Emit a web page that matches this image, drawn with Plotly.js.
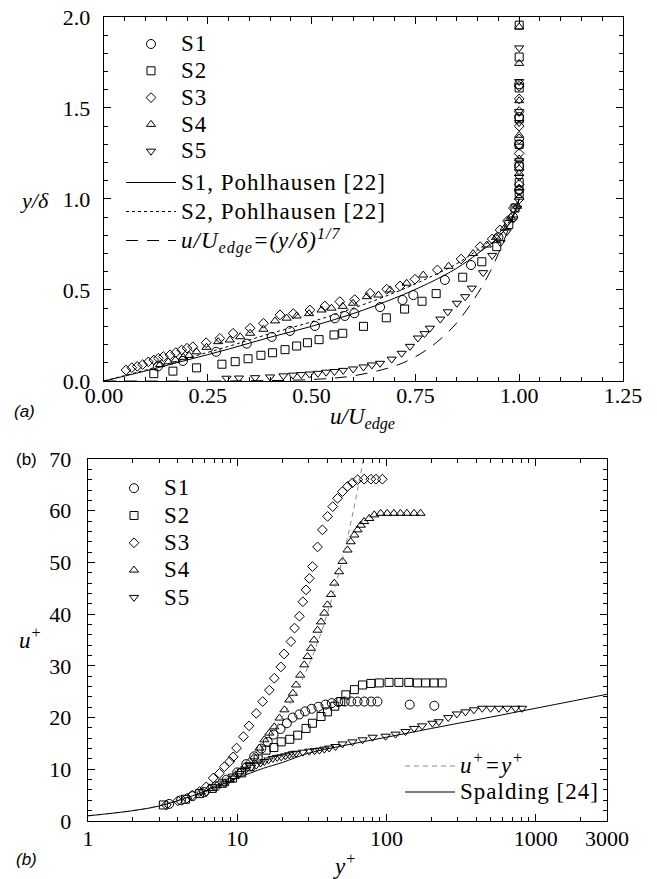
<!DOCTYPE html>
<html>
<head>
<meta charset="utf-8">
<script src="https://cdn.plot.ly/plotly-3.0.1.min.js"></script>
<style>
  html, body { margin: 0; padding: 0; background: #fff; }
  #chart { width: 657px; height: 879px; }
</style>
</head>
<body>
<div id="chart"></div>
<script>
// ---------- (a) mean velocity profiles: u/U_edge vs y/delta ----------
const a_S1_u = [0.13, 0.19, 0.27, 0.344, 0.404, 0.448, 0.508, 0.556, 0.58, 0.603, 0.665, 0.719, 0.745, 0.821, 0.884, 0.95, 0.985, 1.0, 1.0, 1.0, 1.0, 1.0];
const a_S1_y = [0.08, 0.11, 0.16, 0.205, 0.242, 0.275, 0.302, 0.344, 0.357, 0.372, 0.406, 0.445, 0.472, 0.555, 0.637, 0.79, 0.90, 1.05, 1.18, 1.30, 1.45, 1.63];

const a_S2_u = [0.12, 0.166, 0.223, 0.284, 0.316, 0.347, 0.378, 0.406, 0.436, 0.464, 0.49, 0.518, 0.554, 0.575, 0.625, 0.68, 0.724, 0.766, 0.80, 0.864, 0.91, 0.946, 0.975, 0.99, 1.0, 1.0, 1.0, 1.0, 1.0, 1.0, 1.0, 1.0];
const a_S2_y = [0.04, 0.054, 0.072, 0.092, 0.106, 0.122, 0.141, 0.155, 0.172, 0.192, 0.21, 0.227, 0.253, 0.262, 0.30, 0.347, 0.395, 0.438, 0.48, 0.57, 0.655, 0.738, 0.86, 0.95, 1.03, 1.09, 1.18, 1.30, 1.44, 1.61, 1.78, 1.955];

const a_S3_u = [0.053, 0.067, 0.08, 0.093, 0.107, 0.12, 0.131, 0.143, 0.159, 0.173, 0.187, 0.20, 0.214, 0.246, 0.279, 0.311, 0.352, 0.384, 0.424, 0.456, 0.496, 0.532, 0.568, 0.604, 0.641, 0.681, 0.713, 0.749, 0.803, 0.86, 0.906, 0.935, 0.954, 0.972, 0.986, 1.0, 1.0, 1.0, 1.0, 1.0, 1.0, 1.0, 1.0, 1.0];
const a_S3_y = [0.06, 0.073, 0.08, 0.09, 0.105, 0.115, 0.125, 0.134, 0.143, 0.156, 0.17, 0.18, 0.188, 0.21, 0.234, 0.262, 0.29, 0.317, 0.363, 0.37, 0.39, 0.412, 0.436, 0.447, 0.482, 0.504, 0.522, 0.559, 0.61, 0.67, 0.738, 0.78, 0.83, 0.88, 0.95, 1.0, 1.08, 1.16, 1.25, 1.33, 1.40, 1.48, 1.55, 1.62];

const a_S4_u = [0.135, 0.155, 0.172, 0.191, 0.205, 0.223, 0.247, 0.275, 0.303, 0.328, 0.352, 0.384, 0.412, 0.44, 0.464, 0.494, 0.524, 0.548, 0.575, 0.60, 0.633, 0.661, 0.689, 0.729, 0.769, 0.83, 0.889, 0.922, 0.945, 0.965, 0.98, 0.995, 1.0, 1.0, 1.0, 1.0, 1.0, 1.0, 1.0, 1.0];
const a_S4_y = [0.09, 0.105, 0.115, 0.13, 0.14, 0.16, 0.185, 0.216, 0.225, 0.243, 0.262, 0.284, 0.33, 0.345, 0.357, 0.37, 0.39, 0.40, 0.41, 0.427, 0.463, 0.472, 0.50, 0.537, 0.582, 0.63, 0.70, 0.747, 0.79, 0.84, 0.90, 0.96, 1.01, 1.06, 1.14, 1.22, 1.35, 1.54, 1.745, 1.945];

const a_S5_u = [0.295, 0.325, 0.364, 0.40, 0.432, 0.455, 0.475, 0.495, 0.515, 0.535, 0.555, 0.576, 0.60, 0.625, 0.645, 0.665, 0.693, 0.717, 0.737, 0.756, 0.772, 0.785, 0.81, 0.828, 0.85, 0.87, 0.886, 0.913, 0.935, 0.955, 0.97, 0.986, 0.995, 1.0, 1.0, 1.0, 1.0, 1.0, 1.0, 1.0, 1.0];
const a_S5_y = [0.015, 0.016, 0.018, 0.022, 0.028, 0.032, 0.035, 0.038, 0.042, 0.048, 0.052, 0.058, 0.066, 0.077, 0.088, 0.097, 0.12, 0.152, 0.19, 0.236, 0.26, 0.29, 0.34, 0.38, 0.427, 0.463, 0.51, 0.595, 0.69, 0.76, 0.82, 0.89, 0.95, 1.04, 1.12, 1.21, 1.29, 1.42, 1.48, 1.645, 1.83];

// Pohlhausen curves and 1/7 power law
const a_pohl_u   = [0, 0.05, 0.10, 0.20, 0.30, 0.40, 0.50, 0.60, 0.70, 0.78, 0.85, 0.90, 0.95, 0.98, 1.0];
const a_pohl1_y  = [0, 0.027, 0.055, 0.115, 0.175, 0.24, 0.30, 0.37, 0.455, 0.535, 0.62, 0.70, 0.79, 0.88, 1.0];
const a_pohl2_y  = [0, 0.030, 0.060, 0.125, 0.19, 0.26, 0.325, 0.40, 0.485, 0.565, 0.645, 0.72, 0.81, 0.89, 1.0];
const a_pow_u    = [0, 0.30, 0.50, 0.60, 0.70, 0.75, 0.80, 0.85, 0.90, 0.93, 0.95, 0.97, 0.99, 1.0];
const a_pow_y    = [0, 0.0002, 0.008, 0.028, 0.082, 0.133, 0.21, 0.32, 0.48, 0.60, 0.70, 0.81, 0.93, 1.0];

// ---------- (b) wall units: y+ vs u+ ----------
const b_S1_yp = [3.5, 4.2, 5.0, 6.0, 7.2, 8.5, 10, 11.5, 13, 14.5, 16, 17.5, 19.5, 21.5, 23.5, 26, 28.5, 31.5, 35, 39, 43, 47.5, 52.5, 58, 64, 71, 79, 87, 143, 209];
const b_S1_up = [3.3, 4.0, 4.8, 5.6, 6.7, 8.0, 9.4, 11.0, 12.5, 14.0, 15.3, 16.7, 17.8, 18.9, 20.0, 20.6, 21.2, 21.7, 22.1, 22.5, 22.8, 23.0, 23.1, 23.1, 23.1, 23.1, 23.1, 23.1, 22.5, 22.3];

const b_S2_yp = [3.2, 4.5, 5.6, 6.8, 8.0, 9.3, 10.7, 12.2, 13.8, 15.6, 17.6, 19.7, 22.5, 25.4, 28.9, 31.9, 36.4, 40.2, 45, 49.4, 53.4, 60.9, 69.1, 78.6, 89.4, 104, 121, 141, 161, 183, 208, 236];
const b_S2_up = [3.1, 4.2, 5.3, 6.3, 7.3, 8.3, 9.3, 10.5, 12.0, 13.7, 14.2, 15.3, 15.8, 16.6, 17.9, 18.9, 20.2, 21.1, 22.2, 23.1, 24.4, 25.4, 26.3, 26.6, 26.7, 26.8, 26.8, 26.8, 26.7, 26.7, 26.7, 26.7];

const b_S3_yp = [3.35, 4.0, 4.6, 5.0, 5.6, 6.2, 6.9, 7.6, 8.2, 8.9, 9.4, 9.9, 11.0, 12.0, 13.4, 14.8, 16.4, 17.7, 19.6, 20.6, 22.9, 24.2, 26.1, 27.5, 28.9, 30.4, 31.9, 34.5, 37.2, 40.3, 43.6, 47.0, 50.7, 54.8, 59.1, 64.0, 70.8, 78.6, 84.9, 93.8];
const b_S3_up = [3.1, 3.9, 4.4, 5.0, 5.7, 6.6, 8.3, 9.2, 10.5, 11.5, 12.4, 14.1, 16.3, 18.4, 20.8, 23.1, 25.3, 27.6, 29.8, 32.3, 34.7, 37.3, 39.6, 42.4, 44.7, 46.9, 49.2, 53.0, 56.3, 58.9, 60.8, 62.4, 63.7, 64.7, 65.4, 66.0, 66.1, 66.1, 66.1, 66.1];

const b_S4_yp = [5.7, 6.5, 7.3, 8.2, 8.9, 9.6, 10.4, 11.2, 12.1, 13.0, 14.1, 15.2, 16.4, 17.7, 19.2, 20.7, 22.3, 23.6, 24.8, 26.4, 28.1, 29.6, 31.2, 32.7, 34.5, 36.4, 38.3, 40.2, 42.5, 44.7, 48.1, 50.7, 54.8, 57.6, 60.9, 64.0, 67.3, 70.8, 76.6, 82.8, 91.4, 101, 112, 124, 137, 153, 169];
const b_S4_up = [5.6, 6.3, 6.9, 7.3, 7.9, 8.6, 9.5, 10.5, 11.5, 12.4, 14.1, 15.7, 17.0, 18.2, 19.9, 21.5, 23.4, 24.7, 26.3, 28.2, 30.2, 31.8, 33.4, 35.0, 36.9, 38.5, 40.2, 41.8, 43.8, 46.0, 48.2, 50.2, 52.4, 54.0, 55.3, 56.3, 57.2, 57.9, 58.5, 59.2, 59.5, 59.5, 59.5, 59.5, 59.5, 59.5, 59.5];

const b_S5_yp = [6.2, 7.2, 8.2, 9.3, 10.4, 11.5, 12.4, 13.4, 14.3, 15.2, 16.2, 17.3, 18.5, 19.7, 21.0, 22.3, 23.6, 24.8, 27.5, 30.4, 33.0, 35.5, 38.3, 41.3, 45.5, 50.7, 59.1, 69.1, 80.7, 98.6, 115, 134, 153, 173, 203, 224, 259, 296, 338, 385, 438, 498, 566, 643, 731, 810];
const b_S5_up = [5.5, 6.6, 7.3, 8.3, 9.2, 10.0, 10.4, 10.8, 11.2, 11.5, 11.8, 12.1, 12.3, 12.4, 12.6, 12.8, 13.0, 13.1, 13.3, 13.5, 13.6, 13.7, 13.9, 14.1, 14.4, 14.9, 15.3, 15.7, 16.2, 16.4, 16.8, 17.3, 17.9, 18.4, 18.9, 19.2, 20.0, 20.7, 21.1, 21.5, 21.8, 21.8, 21.8, 21.8, 21.8, 21.8];

// viscous sublayer line and Spalding law
const b_lin_yp  = [1, 2, 3, 5, 7, 10, 15, 20, 30, 40, 50, 60, 70];
const b_lin_up  = [1, 2, 3, 5, 7, 10, 15, 20, 30, 40, 50, 60, 70];
const b_spal_yp = [1, 2, 3, 5, 7, 10, 15, 20, 30, 50, 100, 200, 500, 1000, 3000];
const b_spal_up = [1.0, 2.0, 2.9, 4.85, 6.5, 8.3, 10.2, 11.3, 13.1, 14.5, 16.2, 17.9, 20.1, 21.8, 24.5];

const seriesNames = ['S1', 'S2', 'S3', 'S4', 'S5'];
const lineNamesA = ['S1, Pohlhausen [22]', 'S2, Pohlhausen [22]', '<i>u/U<sub>edge</sub>=(y/δ)<sup>1/7</sup></i>'];
const lineNamesB = ['<i>u<sup>+</sup>=y<sup>+</sup></i>', 'Spalding [24]'];
const symbols = ['circle-open', 'square-open', 'diamond-open', 'triangle-up-open', 'triangle-down-open'];
const sizes = [9, 8, 7.5, 8, 8];

const SERIF = 'Liberation Serif';
const SANS = 'Liberation Sans';
// legend labels are drawn larger than the legend row pitch
const big = (t) => '<span style="font-size:23px;letter-spacing:1px">' + t + '</span>';

const aU = [a_S1_u, a_S2_u, a_S3_u, a_S4_u, a_S5_u];
const aY = [a_S1_y, a_S2_y, a_S3_y, a_S4_y, a_S5_y];
const bX = [b_S1_yp, b_S2_yp, b_S3_yp, b_S4_yp, b_S5_yp];
const bY = [b_S1_up, b_S2_up, b_S3_up, b_S4_up, b_S5_up];

const traces = [];
seriesNames.forEach((n, i) => {
  traces.push({
    type: 'scatter', mode: 'markers', name: big(n), x: aU[i], y: aY[i],
    xaxis: 'x', yaxis: 'y', legend: 'legend',
    marker: { symbol: symbols[i], size: sizes[i], color: 'black', line: { width: 1, color: 'black' } }
  });
});
traces.push({ type: 'scatter', mode: 'lines', name: big(lineNamesA[0]), x: a_pohl_u, y: a_pohl1_y,
  xaxis: 'x', yaxis: 'y', legend: 'legend4', line: { color: 'black', width: 1, shape: 'spline' } });
traces.push({ type: 'scatter', mode: 'lines', name: big(lineNamesA[1]), x: a_pohl_u, y: a_pohl2_y,
  xaxis: 'x', yaxis: 'y', legend: 'legend4', line: { color: 'black', width: 1, dash: '3px,3px', shape: 'spline' } });
traces.push({ type: 'scatter', mode: 'lines', name: big(lineNamesA[2]), x: a_pow_u, y: a_pow_y,
  xaxis: 'x', yaxis: 'y', legend: 'legend4', line: { color: 'black', width: 1, dash: '12px,9px', shape: 'spline' } });

seriesNames.forEach((n, i) => {
  traces.push({
    type: 'scatter', mode: 'markers', name: big(n), x: bX[i], y: bY[i],
    xaxis: 'x2', yaxis: 'y2', legend: 'legend2',
    marker: { symbol: symbols[i], size: sizes[i], color: 'black', line: { width: 1, color: 'black' } }
  });
});
traces.push({ type: 'scatter', mode: 'lines', name: big(lineNamesB[0]), x: b_lin_yp, y: b_lin_up,
  xaxis: 'x2', yaxis: 'y2', legend: 'legend3', line: { color: '#888', width: 1, dash: '5px,4px', shape: 'spline' } });
traces.push({ type: 'scatter', mode: 'lines', name: big(lineNamesB[1]), x: b_spal_yp, y: b_spal_up,
  xaxis: 'x2', yaxis: 'y2', legend: 'legend3', line: { color: 'black', width: 1, shape: 'spline' } });

function axisBase() {
  return {
    showline: true, linecolor: 'black', linewidth: 1.3, mirror: 'allticks',
    ticks: 'inside', ticklen: 7, tickwidth: 1, tickcolor: 'black',
    showgrid: false, zeroline: false,
    tickfont: { family: 'Liberation Serif', size: 22, color: 'black' }
  };
}

const minorLog = [];
[1, 10, 100, 1000].forEach(d => { for (let k = 2; k <= 9; k++) { if (k * d < 3000) minorLog.push(k * d); } });

function legendAt(x, y, size) {
  return { font: { family: SERIF, size: size, color: 'black' }, bgcolor: 'rgba(0,0,0,0)', borderwidth: 0,
    xanchor: 'left', yanchor: 'top', traceorder: 'normal', tracegroupgap: 0, itemwidth: 50, x: x, y: y };
}

const layout = {
  width: 657, height: 879,
  margin: { l: 0, r: 0, t: 0, b: 0 },
  paper_bgcolor: 'white', plot_bgcolor: 'white',
  showlegend: true,
  font: { family: SERIF, color: 'black' },
  xaxis: Object.assign(axisBase(), {
    domain: [0.1583, 0.9482], anchor: 'y', range: [0, 1.25], dtick: 0.25, tick0: 0, tickformat: '.2f',
    ticklabelstandoff: -6,
    minor: { dtick: 0.05, ticks: 'inside', ticklen: 4, tickcolor: 'black', showgrid: false }
  }),
  yaxis: Object.assign(axisBase(), {
    domain: [0.5666, 0.9807], anchor: 'x', range: [0, 2], dtick: 0.5, tick0: 0, tickformat: '.1f',
    ticklabelstandoff: 8,
    minor: { dtick: 0.1, ticks: 'inside', ticklen: 4, tickcolor: 'black', showgrid: false }
  }),
  xaxis2: Object.assign(axisBase(), {
    domain: [0.1339, 0.9239], anchor: 'y2', type: 'log', range: [0, Math.log10(3000)],
    tickmode: 'array', tickvals: [1, 10, 100, 1000, 3000], ticktext: ['1', '10', '100', '1000', '3000'],
    ticklabelstandoff: -3,
    minor: { tickmode: 'array', tickvals: minorLog, ticks: 'inside', ticklen: 4, tickcolor: 'black', showgrid: false }
  }),
  yaxis2: Object.assign(axisBase(), {
    domain: [0.0660, 0.4778], anchor: 'x2', range: [0, 70], dtick: 10, tick0: 0,
    ticklabelstandoff: 11,
    minor: { dtick: 2, ticks: 'inside', ticklen: 4, tickcolor: 'black', showgrid: false }
  }),
  legend: legendAt(121 / 657, 1 - 25.6 / 879, 18.3),
  legend4: legendAt(121 / 657, 1 - 163 / 879, 20),
  legend2: legendAt(104 / 657, 1 - 469.5 / 879, 18.7),
  legend3: legendAt(400 / 657, 1 - 748 / 879, 17.7),
  annotations: [
    { text: '<i>(a)</i>', x: 12 / 657, y: 1 - 411 / 879, xref: 'paper', yref: 'paper', xanchor: 'left', yanchor: 'middle', showarrow: false, font: { family: SANS, size: 17, color: 'black' } },
    { text: '(b)', x: 14 / 657, y: 1 - 459 / 879, xref: 'paper', yref: 'paper', xanchor: 'left', yanchor: 'middle', showarrow: false, font: { family: SANS, size: 17, color: 'black' } },
    { text: '<i>(b)</i>', x: 14 / 657, y: 1 - 859 / 879, xref: 'paper', yref: 'paper', xanchor: 'left', yanchor: 'middle', showarrow: false, font: { family: SANS, size: 17, color: 'black' } },
    { text: '<i>y/δ</i>', x: 34 / 657, y: 1 - 200 / 879, xref: 'paper', yref: 'paper', xanchor: 'center', yanchor: 'middle', showarrow: false, font: { family: SERIF, size: 22, color: 'black' } },
    { text: '<i>u/U<sub>edge</sub></i>', x: 362 / 657, y: 1 - 418 / 879, xref: 'paper', yref: 'paper', xanchor: 'center', yanchor: 'middle', showarrow: false, font: { family: SERIF, size: 23, color: 'black' } },
    { text: '<i>u<sup>+</sup></i>', x: 30 / 657, y: 1 - 638 / 879, xref: 'paper', yref: 'paper', xanchor: 'center', yanchor: 'middle', showarrow: false, font: { family: SERIF, size: 23, color: 'black' } },
    { text: '<i>y<sup>+</sup></i>', x: 344 / 657, y: 1 - 864 / 879, xref: 'paper', yref: 'paper', xanchor: 'center', yanchor: 'middle', showarrow: false, font: { family: SERIF, size: 23, color: 'black' } }
  ]
};

Plotly.newPlot('chart', traces, layout, { staticPlot: true, displayModeBar: false });
</script>
</body>
</html>
